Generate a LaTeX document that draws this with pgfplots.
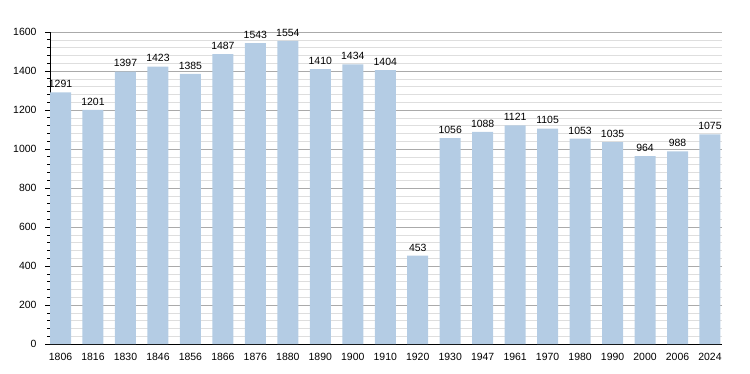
\documentclass[border=0pt]{standalone}
\usepackage{fontspec}
\setmainfont{Liberation Sans}
\usepackage{pgfplots}
\pgfplotsset{compat=1.18}
\definecolor{barblue}{RGB}{180,204,228}
\definecolor{majgrid}{RGB}{170,170,170}
\definecolor{mingrid}{RGB}{222,222,222}
\begin{document}
\begin{tikzpicture}
\begin{axis}[
  scale only axis,
  width=672bp, height=312bp,
  ymin=0, ymax=1600,
  xmin=-0.324, xmax=20.37,
  ytick={0,200,...,1600},
  minor y tick num=4,
  ymajorgrids, yminorgrids,
  major grid style={color=majgrid, line width=0.6pt},
  minor grid style={color=mingrid, line width=0.5pt},
  axis x line*=bottom, axis y line*=left,
  axis line style={black, line width=0.8pt},
  y axis line style={-}, x axis line style={-},
  xtick={0,...,20},
  xticklabels={1806,1816,1830,1846,1856,1866,1876,1880,1890,1900,1910,1920,1930,1947,1961,1970,1980,1990,2000,2006,2024},
  xtick style={draw=none},
  ytick style={black, line width=0.6pt},
  tick align=outside,
  major tick length=5bp,
  minor tick length=3bp,
  tick label style={font=\fontsize{10.5}{12}\selectfont},
  /pgf/number format/assume math mode=true,
  yticklabel style={xshift=-5bp},
  xticklabel style={yshift=-1bp},
  y tick label style={/pgf/number format/1000 sep={}},
  nodes near coords,
  every node near coord/.append style={font=\fontsize{10.5}{12}\selectfont, black, /pgf/number format/1000 sep={}, yshift=1bp},
  clip=false,
]
\addplot[ybar, bar width=21bp, fill=barblue, draw=none] coordinates {
(0,1291) (1,1201) (2,1397) (3,1423) (4,1385) (5,1487) (6,1543) (7,1554) (8,1410) (9,1434) (10,1404) (11,453) (12,1056) (13,1088) (14,1121) (15,1105) (16,1053) (17,1035) (18,964) (19,988) (20,1075)
};
\coordinate (sw) at (rel axis cs:0,0);
\coordinate (ne) at (rel axis cs:1,1);
\end{axis}
\pgfresetboundingbox
\path ([shift={(-50bp,-30bp)}]sw) rectangle ([shift={(28bp,32bp)}]ne);
\end{tikzpicture}
\end{document}
